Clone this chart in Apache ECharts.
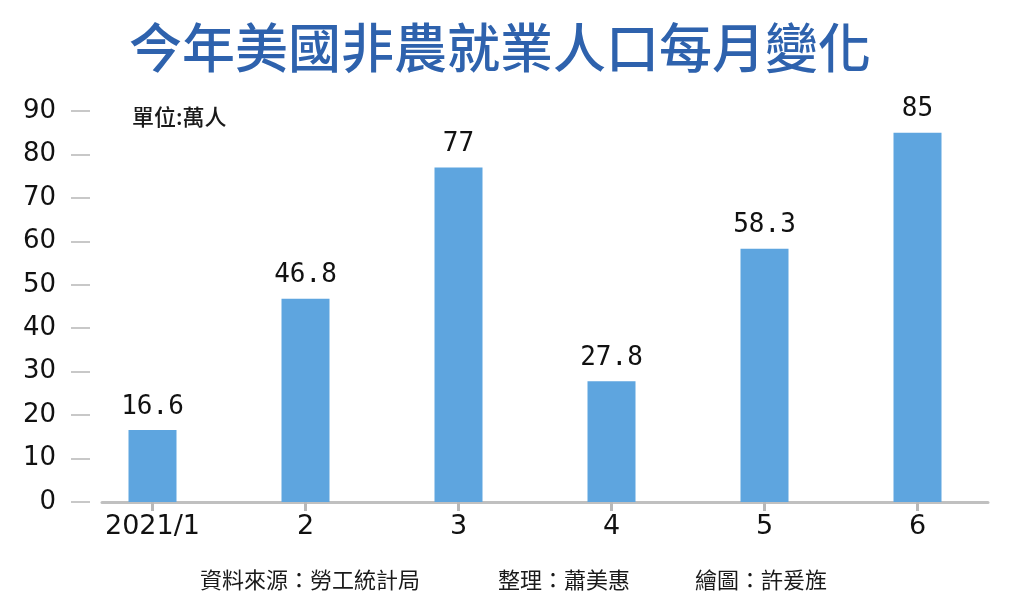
<!DOCTYPE html>
<html>
<head>
<meta charset="utf-8">
<script src="https://cdn.jsdelivr.net/npm/echarts@6/dist/echarts.min.js"></script>
<style>
html,body{margin:0;padding:0;background:#fff;}
#c{width:1024px;height:609px;}
</style>
</head>
<body>
<div id="c"></div>
<script>
var categories = ['2021/1', '2', '3', '4', '5', '6'];
var values = [16.6, 46.8, 77, 27.8, 58.3, 85];
var yTicks = [0, 90, 10];
var titleText = '今年美國非農就業人口每月變化';
var unitText = '單位:萬人';
var footerTexts = ['資料來源：勞工統計局', '整理：蕭美惠', '繪圖：許爰旌'];

var chart = echarts.init(document.getElementById('c'));
var cjk = '"Noto Sans CJK TC", "Noto Sans CJK SC", sans-serif';
var footerLeft = [195, 493, 690];

var titles = [
  {text: titleText, left: 124, top: 16,
   textStyle: {fontFamily: cjk, fontSize: 53, fontWeight: 500, color: '#2e62ad'}},
  {text: unitText, left: 127, top: 101,
   textStyle: {fontFamily: cjk, fontSize: 22, fontWeight: 500, color: '#1a1a1a'}}
];
footerTexts.forEach(function (t, i) {
  titles.push({text: t, left: footerLeft[i], top: 564,
    textStyle: {fontFamily: cjk, fontSize: 22, fontWeight: 'normal', color: '#1a1a1a'}});
});

chart.setOption({
  backgroundColor: '#fff',
  animation: false,
  title: titles,
  grid: [
    {left: 76, right: 30, top: 111, bottom: 107},
    {left: 102, right: 36, top: 111, bottom: 107}
  ],
  xAxis: [
    {type: 'category', gridIndex: 0, data: categories,
     axisLine: {show: false},
     axisTick: {show: true, alignWithLabel: true, length: 9, lineStyle: {color: '#b8b8b8', width: 3}},
     axisLabel: {margin: 11, fontSize: 27, color: '#111', fontFamily: '"DejaVu Sans", sans-serif'}},
    {type: 'value', gridIndex: 1, min: 0, max: 1,
     axisLine: {show: true, onZero: false, lineStyle: {color: '#c0c0c0', width: 3}},
     axisTick: {show: false}, axisLabel: {show: false}, splitLine: {show: false}}
  ],
  yAxis: [
    {type: 'value', gridIndex: 0, min: yTicks[0], max: yTicks[1], interval: yTicks[2],
     offset: -14,
     axisLine: {show: false},
     axisTick: {show: true, length: 19, lineStyle: {color: '#c8c8c8', width: 2}},
     axisLabel: {margin: 34, fontSize: 26, color: '#111', fontFamily: '"DejaVu Sans", sans-serif'},
     splitLine: {show: false}},
    {type: 'value', gridIndex: 1, min: 0, max: 1, show: false}
  ],
  series: [{
    type: 'bar', xAxisIndex: 0, yAxisIndex: 0,
    data: values, barWidth: 48,
    itemStyle: {color: '#5ea5df'},
    label: {show: true, position: 'top', distance: 10,
      fontFamily: '"DejaVu Sans Mono", monospace', fontSize: 26, color: '#111'}
  }]
});
</script>
</body>
</html>
